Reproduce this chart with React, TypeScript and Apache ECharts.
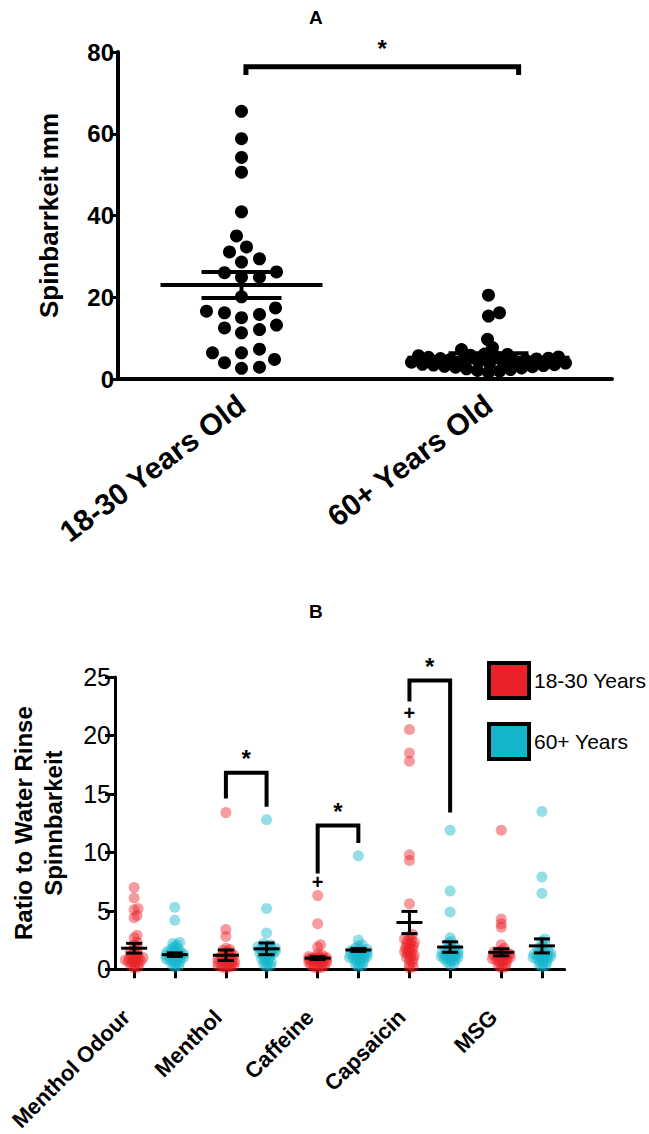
import React, { useEffect, useRef } from "react";
import * as echarts from "echarts";

// ---------------- Panel A data ----------------
const ageGroupsA = ["18-30 Years Old", "60+ Years Old"];
const spinYoungA = [65.5, 58.8, 54.2, 50.6, 40.9, 35.0, 32.3, 31.1, 29.4, 28.6, 26.2, 26.0, 24.9, 24.9, 20.1, 17.4, 16.6, 16.2, 15.8, 15.0, 13.2, 12.5, 12.1, 11.3, 7.3, 6.4, 6.4, 4.8, 4.0, 2.9, 2.6];
const spinOldA = [20.5, 16.2, 15.4, 9.7, 7.7, 7.2, 6.1, 6.0, 5.8, 5.7, 5.5, 5.4, 5.3, 5.1, 5.0, 4.9, 4.8, 4.6, 4.5, 4.4, 4.3, 4.1, 4.0, 3.9, 3.8, 3.6, 3.5, 3.4, 3.3, 3.1, 3.0, 2.9, 2.7, 2.5, 2.3, 2.1, 1.9, 1.6];
const meanA = [23.0, 5.2];
const semA = [3.2, 1.1];
// significance bracket: [x1, x2, yTop, yLeftEnd, yRightEnd]
const bracketA = [[0.518, 1.622, 76.4, 74.4, 74.4]];

// ---------------- Panel B data ----------------
const stimuliB = ["Menthol Odour", "Menthol", "Caffeine", "Capsaicin", "MSG"];
const groupNamesB = ["18-30 Years", "60+ Years"];
const youngMentholOdour = [7.0, 6.1, 5.2, 5.1, 4.6, 4.4, 2.9, 2.7, 2.3, 2.1, 1.9, 1.7, 1.5, 1.4, 1.3, 1.2, 1.1, 1.0, 0.95, 0.9, 0.85, 0.8, 0.75, 0.7, 0.65, 0.6, 0.5, 0.4, 0.3, 0.2, 0.1];
const oldMentholOdour = [5.3, 4.2, 2.3, 2.2, 2.1, 1.9, 1.8, 1.7, 1.6, 1.5, 1.5, 1.4, 1.4, 1.3, 1.3, 1.2, 1.2, 1.1, 1.1, 1.0, 1.0, 0.9, 0.9, 0.8, 0.8, 0.7, 0.6, 0.5, 0.4, 0.3, 0.2];
const youngMenthol = [13.4, 3.4, 2.8, 1.8, 1.7, 1.6, 1.5, 1.4, 1.3, 1.2, 1.2, 1.1, 1.0, 1.0, 0.9, 0.9, 0.8, 0.8, 0.7, 0.7, 0.6, 0.6, 0.5, 0.5, 0.4, 0.4, 0.3, 0.3, 0.2, 0.2, 0.1];
const oldMenthol = [12.8, 5.2, 3.1, 2.2, 2.1, 2.0, 1.9, 1.8, 1.8, 1.7, 1.7, 1.6, 1.6, 1.5, 1.5, 1.4, 1.4, 1.3, 1.3, 1.2, 1.1, 1.0, 0.9, 0.8, 0.7, 0.6, 0.5, 0.4, 0.3, 0.2];
const youngCaffeine = [6.3, 3.9, 2.1, 1.9, 1.3, 1.2, 1.1, 1.05, 1.0, 1.0, 0.95, 0.95, 0.9, 0.9, 0.85, 0.85, 0.8, 0.8, 0.75, 0.7, 0.65, 0.6, 0.55, 0.5, 0.45, 0.4, 0.35, 0.3, 0.2, 0.15, 0.1];
const oldCaffeine = [9.7, 2.5, 2.1, 2.0, 1.8, 1.7, 1.7, 1.6, 1.6, 1.5, 1.5, 1.4, 1.4, 1.3, 1.3, 1.2, 1.2, 1.1, 1.1, 1.0, 1.0, 0.9, 0.9, 0.8, 0.7, 0.6, 0.5, 0.4, 0.3, 0.2];
const youngCapsaicin = [20.5, 18.5, 17.8, 9.8, 9.3, 5.6, 3.0, 2.8, 2.6, 2.5, 2.4, 2.3, 2.2, 2.1, 2.0, 1.9, 1.8, 1.7, 1.6, 1.5, 1.4, 1.3, 1.2, 1.1, 1.0, 0.9, 0.8, 0.6, 0.4, 0.2, 0.1];
const oldCapsaicin = [11.9, 6.7, 4.9, 2.7, 2.4, 2.2, 2.0, 1.9, 1.8, 1.7, 1.6, 1.5, 1.5, 1.4, 1.4, 1.3, 1.3, 1.2, 1.2, 1.1, 1.1, 1.0, 1.0, 0.9, 0.9, 0.8, 0.7, 0.6, 0.5, 0.4];
const youngMSG = [11.9, 4.3, 3.9, 3.6, 2.1, 1.8, 1.6, 1.5, 1.4, 1.4, 1.3, 1.3, 1.2, 1.2, 1.1, 1.1, 1.0, 1.0, 0.9, 0.9, 0.8, 0.8, 0.7, 0.6, 0.5, 0.4, 0.3, 0.2, 0.1];
const oldMSG = [13.5, 7.9, 6.5, 2.6, 2.4, 2.2, 2.0, 1.8, 1.7, 1.6, 1.5, 1.4, 1.4, 1.3, 1.3, 1.2, 1.2, 1.1, 1.1, 1.0, 1.0, 0.9, 0.9, 0.8, 0.7, 0.6, 0.5, 0.4, 0.3, 0.2];
const meanYoungB = [1.8, 1.2, 0.95, 4.0, 1.45];
const semYoungB = [0.42, 0.45, 0.12, 0.95, 0.3];
const meanOldB = [1.25, 1.75, 1.65, 1.9, 2.0];
const semOldB = [0.15, 0.5, 0.12, 0.45, 0.6];
// brackets: [category, yTop, yLeftEnd, yRightEnd]
const bracketsB = [
  [1, 16.8, 14.6, 13.9],
  [2, 12.3, 8.2, 10.8],
  [3, 24.7, 22.9, 13.4],
];
// "+" markers over the young group: [category, y]
const plusMarksB = [
  [2, 7.5],
  [3, 21.9],
];

const youngB = [youngMentholOdour, youngMenthol, youngCaffeine, youngCapsaicin, youngMSG];
const oldB = [oldMentholOdour, oldMenthol, oldCaffeine, oldCapsaicin, oldMSG];

// ---------------- layout constants ----------------
const FONT = "'Liberation Sans', Arial, sans-serif";
const gridA = { left: 118, top: 52, width: 494, height: 327 };
const gridB = { left: 107, top: 677, width: 457.7, height: 304 };
const A_XMIN = 0, A_XMAX = 2, A_YMAX = 80;
const B_XMIN = -0.43, B_XMAX = 4.47, B_YMAX = 25;
const B_OFF = 0.2216; // half distance between the two groups in a category
const RED = "#EA2129";
const BLUE = "#14B5CB";

// beeswarm-like horizontal spreading (pixel offsets)
function swarm(values: number[], yScale: number, sx: number, sy: number, maxOff: number, step = 1): number[] {
  const idx = values.map((_, i) => i).sort((a, b) => values[a] - values[b]);
  const placed: [number, number][] = [];
  const out = new Array(values.length).fill(0);
  const n = Math.floor(maxOff / step);
  for (const i of idx) {
    const y = values[i] * yScale;
    let chosen: number | null = null;
    let bestScore = -1;
    let bestX = 0;
    for (let k = 0; k <= 2 * n; k++) {
      const mag = Math.ceil(k / 2) * step;
      const x = k === 0 ? 0 : k % 2 ? mag : -mag;
      let minD = Infinity;
      for (const [px, py] of placed) {
        const d = ((px - x) / sx) ** 2 + ((py - y) / sy) ** 2;
        if (d < minD) minD = d;
      }
      if (minD >= 1) {
        chosen = x;
        break;
      }
      if (minD > bestScore) {
        bestScore = minD;
        bestX = x;
      }
    }
    const x = chosen ?? bestX;
    placed.push([x, y]);
    out[i] = x;
  }
  return out;
}

function buildOption() {
  const pxPerXA = gridA.width / (A_XMAX - A_XMIN);
  const pxPerYA = gridA.height / A_YMAX;
  const pxPerXB = gridB.width / (B_XMAX - B_XMIN);
  const pxPerYB = gridB.height / B_YMAX;

  const swarmA = [
    swarm(spinYoungA, pxPerYA, 18, 13, 60),
    swarm(spinOldA, pxPerYA, 11, 9, 78),
  ];
  const scatterA = [spinYoungA, spinOldA].map((vals, gi) =>
    vals.map((v, i) => [gi + 0.5 + swarmA[gi][i] / pxPerXA, v])
  );

  const scatterB = [youngB, oldB].map((groups, g) => {
    const pts: number[][] = [];
    groups.forEach((vals, c) => {
      const center = c + (g === 0 ? -B_OFF : B_OFF);
      const offs = swarm(vals, pxPerYB, 3.5, 3.5, 9);
      vals.forEach((v, i) => pts.push([center + offs[i] / pxPerXB, v]));
    });
    return pts;
  });

  const meanDataB: number[][] = [];
  stimuliB.forEach((_, c) => {
    meanDataB.push([c - B_OFF, meanYoungB[c], semYoungB[c]]);
    meanDataB.push([c + B_OFF, meanOldB[c], semOldB[c]]);
  });

  const tickValsB: number[] = [];
  const labelValsB: number[] = [];
  stimuliB.forEach((_, c) => {
    tickValsB.push(c - B_OFF, c + B_OFF);
    labelValsB.push(c - B_OFF);
  });

  const meanRenderer = (halfMean: number, halfCap: number, lw: number) => (params: any, api: any) => {
    const x = api.value(0);
    const m = api.value(1);
    const s = api.value(2);
    const pm = api.coord([x, m]);
    const pu = api.coord([x, m + s]);
    const pl = api.coord([x, m - s]);
    const st = { stroke: "#000", lineWidth: lw };
    return {
      type: "group",
      children: [
        { type: "line", shape: { x1: pm[0] - halfMean, y1: pm[1], x2: pm[0] + halfMean, y2: pm[1] }, style: st },
        { type: "line", shape: { x1: pu[0], y1: pu[1], x2: pl[0], y2: pl[1] }, style: st },
        { type: "line", shape: { x1: pu[0] - halfCap, y1: pu[1], x2: pu[0] + halfCap, y2: pu[1] }, style: st },
        { type: "line", shape: { x1: pl[0] - halfCap, y1: pl[1], x2: pl[0] + halfCap, y2: pl[1] }, style: st },
      ],
    };
  };

  const bracketRenderer = (lw: number, starGap: number) => (params: any, api: any) => {
    const x1 = api.value(0);
    const x2 = api.value(1);
    const yt = api.value(2);
    const yl = api.value(3);
    const yr = api.value(4);
    const a = api.coord([x1, yl]);
    const b = api.coord([x1, yt]);
    const c = api.coord([x2, yt]);
    const d = api.coord([x2, yr]);
    return {
      type: "group",
      children: [
        {
          type: "polyline",
          shape: { points: [a, b, c, d] },
          style: { stroke: "#000", lineWidth: lw, fill: "none", lineJoin: "miter" },
        },
        {
          type: "text",
          x: (b[0] + c[0]) / 2,
          y: b[1] - starGap,
          style: { text: "*", fill: "#000", fontFamily: FONT, fontWeight: "bold", fontSize: 24, align: "center", verticalAlign: "middle" },
        },
      ],
    };
  };

  const axisTitleStyle = { fontFamily: FONT, fontWeight: "bold", color: "#000" };

  return {
    animation: false,
    backgroundColor: "#ffffff",
    title: [
      { text: "A", left: 304, top: 3, textStyle: { ...axisTitleStyle, fontSize: 19 } },
      { text: "B", left: 304, top: 597, textStyle: { ...axisTitleStyle, fontSize: 19 } },
    ],
    legend: {
      orient: "vertical",
      left: 482,
      top: 656,
      itemWidth: 40,
      itemHeight: 35,
      itemGap: 22,
      selectedMode: false,
      textStyle: { fontFamily: FONT, fontSize: 21, color: "#000" },
      data: [
        { name: groupNamesB[0], icon: "rect", itemStyle: { color: RED, borderColor: "#000", borderWidth: 4, opacity: 1 } },
        { name: groupNamesB[1], icon: "rect", itemStyle: { color: BLUE, borderColor: "#000", borderWidth: 4, opacity: 1 } },
      ],
    },
    grid: [
      { ...gridA, containLabel: false },
      { ...gridB, containLabel: false },
    ],
    xAxis: [
      {
        type: "category",
        gridIndex: 0,
        data: ageGroupsA,
        boundaryGap: true,
        axisLine: { onZero: false, lineStyle: { color: "#000", width: 4 } },
        axisTick: { alignWithLabel: true, length: 8, lineStyle: { color: "#000", width: 3 } },
        axisLabel: { rotate: 37, margin: 22, fontFamily: FONT, fontWeight: "bold", fontSize: 30, color: "#000" },
        splitLine: { show: false },
      },
      { type: "value", gridIndex: 0, min: A_XMIN, max: A_XMAX, show: false },
      {
        type: "value",
        gridIndex: 1,
        min: B_XMIN,
        max: B_XMAX,
        axisLine: { show: true, onZero: false, lineStyle: { color: "#000", width: 3 } },
        axisTick: { show: true, customValues: tickValsB, length: 9, lineStyle: { color: "#000", width: 3 } },
        axisLabel: {
          show: true,
          customValues: labelValsB,
          rotate: 45,
          margin: 52,
          verticalAlign: "bottom",
          fontFamily: FONT,
          fontWeight: "bold",
          fontSize: 22,
          color: "#000",
          formatter: (v: number) => stimuliB[Math.round(v + B_OFF)] ?? "",
        },
        splitLine: { show: false },
      },
    ],
    yAxis: [
      {
        type: "value",
        gridIndex: 0,
        min: 0,
        max: A_YMAX,
        interval: 20,
        name: "Spinbarrkeit mm",
        nameLocation: "middle",
        nameGap: 56,
        nameTextStyle: { ...axisTitleStyle, fontSize: 26 },
        axisLine: { show: true, onZero: false, lineStyle: { color: "#000", width: 4 } },
        axisTick: { show: true, length: 8, lineStyle: { color: "#000", width: 3 } },
        axisLabel: { margin: 4, fontFamily: FONT, fontWeight: "bold", fontSize: 24, color: "#000" },
        splitLine: { show: false },
      },
      {
        type: "value",
        gridIndex: 1,
        min: 0,
        max: B_YMAX,
        interval: 5,
        name: "Ratio to Water Rinse\nSpinnbarkeit",
        nameLocation: "middle",
        nameGap: 47,
        nameTextStyle: { ...axisTitleStyle, fontSize: 24, lineHeight: 30 },
        axisLine: { show: true, onZero: false, lineStyle: { color: "#000", width: 3 } },
        axisTick: { show: true, length: 10, lineStyle: { color: "#000", width: 3 } },
        axisLabel: { margin: 4, fontFamily: "'Liberation Sans Narrow', 'Liberation Sans', sans-serif", fontSize: 25, color: "#000" },
        splitLine: { show: false },
      },
    ],
    series: [
      {
        type: "scatter",
        name: ageGroupsA[0],
        xAxisIndex: 1,
        yAxisIndex: 0,
        data: scatterA[0],
        symbolSize: 13,
        itemStyle: { color: "#000", opacity: 1 },
        z: 2,
      },
      {
        type: "scatter",
        name: ageGroupsA[1],
        xAxisIndex: 1,
        yAxisIndex: 0,
        data: scatterA[1],
        symbolSize: 13,
        itemStyle: { color: "#000", opacity: 1 },
        z: 2,
      },
      {
        type: "custom",
        name: "meanA",
        xAxisIndex: 1,
        yAxisIndex: 0,
        data: meanA.map((m, i) => [i + 0.5, m, semA[i]]),
        renderItem: meanRenderer(81, 40, 4),
        z: 5,
      },
      {
        type: "custom",
        name: "bracketA",
        xAxisIndex: 1,
        yAxisIndex: 0,
        data: bracketA,
        renderItem: bracketRenderer(5, 18),
        z: 5,
      },
      {
        type: "scatter",
        name: groupNamesB[0],
        xAxisIndex: 2,
        yAxisIndex: 1,
        data: scatterB[0],
        symbolSize: 11,
        itemStyle: { color: RED, opacity: 0.45 },
        z: 2,
      },
      {
        type: "scatter",
        name: groupNamesB[1],
        xAxisIndex: 2,
        yAxisIndex: 1,
        data: scatterB[1],
        symbolSize: 11,
        itemStyle: { color: BLUE, opacity: 0.45 },
        z: 2,
      },
      {
        type: "custom",
        name: "meanB",
        xAxisIndex: 2,
        yAxisIndex: 1,
        data: meanDataB,
        renderItem: meanRenderer(13, 8, 3),
        z: 5,
      },
      {
        type: "custom",
        name: "bracketB",
        xAxisIndex: 2,
        yAxisIndex: 1,
        data: bracketsB.map((b) => [b[0] - B_OFF, b[0] + B_OFF, b[1], b[2], b[3]]),
        renderItem: bracketRenderer(4, 14),
        z: 5,
      },
      {
        type: "custom",
        name: "plusB",
        xAxisIndex: 2,
        yAxisIndex: 1,
        data: plusMarksB.map((p) => [p[0] - B_OFF, p[1]]),
        renderItem: (params: any, api: any) => {
          const p = api.coord([api.value(0), api.value(1)]);
          return {
            type: "text",
            x: p[0],
            y: p[1],
            style: { text: "+", fill: "#000", fontFamily: FONT, fontWeight: "bold", fontSize: 20, align: "center", verticalAlign: "middle" },
          };
        },
        z: 5,
      },
    ],
  };
}

export default function App() {
  const ref = useRef<HTMLDivElement>(null);
  useEffect(() => {
    document.body.style.margin = "0";
    if (!ref.current) return;
    const chart = echarts.init(ref.current, null, { renderer: "svg" });
    chart.setOption(buildOption() as any);
    return () => chart.dispose();
  }, []);
  return <div ref={ref} style={{ width: 649, height: 1134, background: "#fff" }} />;
}
